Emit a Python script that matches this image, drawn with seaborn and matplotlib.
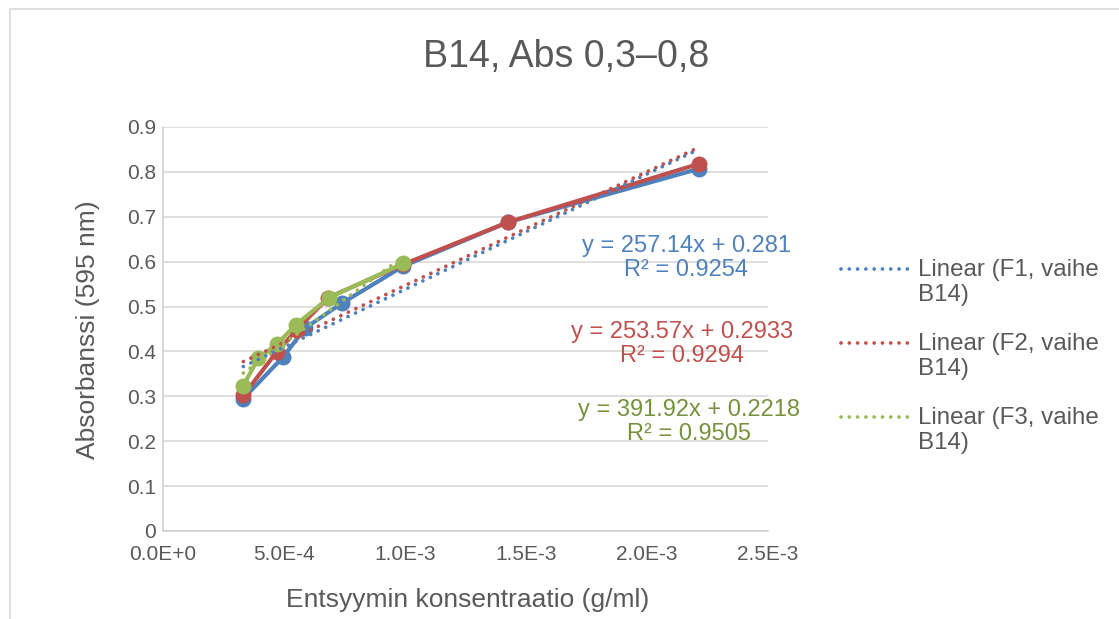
import numpy as np
import pandas as pd
import matplotlib
matplotlib.use("Agg")
import matplotlib.pyplot as plt
import seaborn as sns
from matplotlib.legend_handler import HandlerLine2D
from matplotlib.lines import Line2D
from matplotlib.patches import Rectangle

# ---------------- data ----------------
x_f1 = [3.32e-4, 4.97e-4, 5.87e-4, 7.38e-4, 9.93e-4, 1.426e-3, 2.215e-3]
y_f1 = [0.295, 0.388, 0.452, 0.507, 0.590, 0.688, 0.807]
x_f2 = [3.32e-4, 4.70e-4, 5.52e-4, 6.83e-4, 9.93e-4, 1.426e-3, 2.215e-3]
y_f2 = [0.302, 0.399, 0.448, 0.520, 0.594, 0.688, 0.818]
x_f3 = [3.32e-4, 3.94e-4, 4.70e-4, 5.50e-4, 6.87e-4, 9.93e-4]
y_f3 = [0.324, 0.385, 0.416, 0.460, 0.520, 0.596]

series_names = ["F1, vaihe B14", "F2, vaihe B14", "F3, vaihe B14"]
slopes = [257.14, 253.57, 391.92]
intercepts = [0.281, 0.2933, 0.2218]
r_squared = ["0.9254", "0.9294", "0.9505"]
slope_txt = ["257.14", "253.57", "391.92"]
intercept_txt = ["0.281", "0.2933", "0.2218"]

x_ticks = [0, 5e-4, 1e-3, 1.5e-3, 2e-3, 2.5e-3]
x_tick_labels = ["0.0E+0", "5.0E-4", "1.0E-3", "1.5E-3", "2.0E-3", "2.5E-3"]
y_ticks = [0, 0.1, 0.2, 0.3, 0.4, 0.5, 0.6, 0.7, 0.8, 0.9]
y_tick_labels = ["0", "0.1", "0.2", "0.3", "0.4", "0.5", "0.6", "0.7", "0.8", "0.9"]

title = "B14, Abs 0,3\u20130,8"
x_label = "Entsyymin konsentraatio (g/ml)"
y_label = "Absorbanssi (595 nm)"

# ---------------- style ----------------
line_colors = ["#4F81BD", "#C0504D", "#9BBB59"]
text_colors = ["#4F81BD", "#C0504D", "#76923C"]
gray = "#595959"

sns.set_theme(style="white")
plt.rcParams["font.family"] = ["Liberation Sans", "DejaVu Sans"]

W, H = 1119, 619
fig = plt.figure(figsize=(W / 100, H / 100), dpi=100)
fig.patch.set_facecolor("white")

# chart-area border
fig.add_artist(Rectangle((10 / W, -0.05), 1.2, 1 - 9 / H + 0.05,
                         transform=fig.transFigure, fill=False,
                         edgecolor="#d9d9d9", linewidth=1.2))

L, R, T, B = 163, 768, 127, 531
ax = fig.add_axes([L / W, 1 - B / H, (R - L) / W, (B - T) / H])

df = pd.concat([
    pd.DataFrame({"x": x_f1, "y": y_f1, "series": series_names[0]}),
    pd.DataFrame({"x": x_f2, "y": y_f2, "series": series_names[1]}),
    pd.DataFrame({"x": x_f3, "y": y_f3, "series": series_names[2]}),
], ignore_index=True)

sns.lineplot(data=df, x="x", y="y", hue="series", hue_order=series_names,
             palette=line_colors, marker="o", markersize=11.5, markeredgewidth=0,
             linewidth=3.0, sort=False, estimator=None, legend=False, ax=ax)

xs_all = [x_f1, x_f2, x_f3]
trend_handles = []
for xs, m, b, c, name in zip(xs_all, slopes, intercepts, line_colors, series_names):
    xe = np.array([min(xs), max(xs)])
    (ln,) = ax.plot(xe, m * xe + b, color=c, linewidth=2.7,
                    linestyle=(0, (0.01, 2.2)), dash_capstyle="round",
                    label=f"Linear ({name.replace(' B14', '')}\nB14)")
    trend_handles.append(ln)

ax.set_xlim(0, 2.5e-3)
ax.set_ylim(0, 0.9)
ax.set_xticks(x_ticks)
ax.set_xticklabels(x_tick_labels)
ax.set_yticks(y_ticks)
ax.set_yticklabels(y_tick_labels)
ax.tick_params(axis="both", length=0, labelsize=15, colors=gray)
ax.tick_params(axis="x", pad=10)
ax.tick_params(axis="y", pad=5)
ax.yaxis.grid(True, color="#d9d9d9", linewidth=1.2)
ax.xaxis.grid(False)
for s in ["top", "right"]:
    ax.spines[s].set_visible(False)
for s in ["left", "bottom"]:
    ax.spines[s].set_color("#d0d0d0")
    ax.spines[s].set_linewidth(1.2)
ax.set_xlabel("")
ax.set_ylabel("")
ax.set_facecolor("white")

fig.text(566 / W, 1 - 57 / H, title, ha="center", va="center",
         fontsize=27, color=gray)
fig.text(468 / W, 1 - 600 / H, x_label, ha="center", va="center",
         fontsize=19, color=gray)
fig.text(88 / W, 1 - 330 / H, y_label, ha="center", va="center",
         rotation=90, fontsize=19, color=gray)

# trendline equations
eq_pos = [(686, 258), (682, 344), (689, 422)]
for (px, py), st, it, r2, c in zip(eq_pos, slope_txt, intercept_txt, r_squared, text_colors):
    fig.text(px / W, 1 - py / H, f"y = {st}x + {it}\nR\u00b2 = {r2}",
             ha="center", va="center", multialignment="center",
             fontsize=17, color=c, linespacing=1.12)


class FirstLineHandler(HandlerLine2D):
    def create_artists(self, legend, orig_handle, xdescent, ydescent,
                       width, height, fontsize, trans):
        arts = super().create_artists(legend, orig_handle, xdescent, ydescent,
                                      width, height, fontsize, trans)
        for a in arts:
            if isinstance(a, Line2D):
                a.set_ydata(np.asarray(a.get_ydata()) + 0.58 * fontsize)
        return arts


leg = fig.legend(handles=trend_handles, loc="upper left",
                 bbox_to_anchor=(841 / W, 1 - 259 / H), frameon=False,
                 fontsize=17.4, handlelength=2.85, handletextpad=0.33,
                 labelspacing=1.1, borderpad=0, borderaxespad=0,
                 handler_map={Line2D: FirstLineHandler()})
for t in leg.get_texts():
    t.set_color(gray)

fig.savefig("out.png", dpi=100, facecolor="white")
